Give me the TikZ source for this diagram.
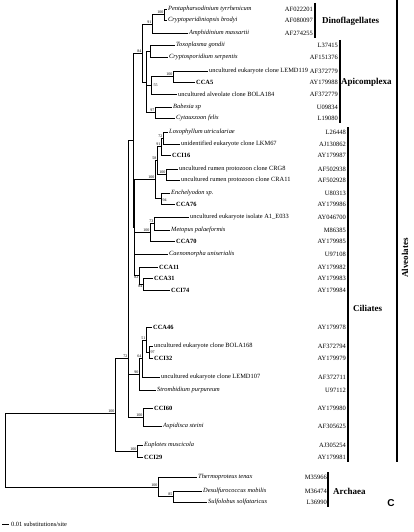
\documentclass[tikz,border=0pt]{standalone}
\usepackage{fontspec}
\setmainfont{Liberation Serif}
\newfontfamily\labelsans{Liberation Sans}
\usetikzlibrary{positioning}
% one taxon: name, end of branch x, y, label, accession, right edge of accession
\newcommand{\taxon}[6]{%
  \node[taxon] (#1) at (#2,#3) {#4};
  \node[acc] (#1-acc) at (#6,#3) {#5};}

\begin{document}
\begin{tikzpicture}[x=1pt,y=-1pt,
  taxon/.style={anchor=west,inner sep=1pt,font=\fontsize{6.4}{7}\selectfont},
  acc/.style={anchor=east,inner sep=0pt,font=\fontsize{6.5}{7}\selectfont},
  boot/.style={inner sep=0.4pt,font=\fontsize{4}{4}\selectfont},
  branch/.style={line width=0.7pt},
  cladebar/.style={line width=1.5pt},
  cladename/.style={anchor=west,inner sep=0pt,font=\fontsize{9}{10}\selectfont\bfseries}]
\useasboundingbox (0,0) rectangle (414,532);
%% leaves
\taxon{t1}{167}{9}{\itshape Pentapharsodinium tyrrhenicum}{AF022201}{313}
\taxon{t2}{167}{20}{\itshape Cryptoperidiniopsis brodyi}{AF080097}{313}
\taxon{t3}{188}{33}{\itshape Amphidinium massartii}{AF274255}{313}
\taxon{t4}{175}{45}{\itshape Toxoplasma gondii}{L37415}{338}
\taxon{t5}{168}{57}{\itshape Cryptosporidium serpentis}{AF151376}{338}
\taxon{t6}{208}{71}{uncultured eukaryote clone LEMD119}{AF372779}{338}
\taxon{t7}{195}{82}{\bfseries CCA5}{AY179988}{338}
\taxon{t8}{177}{94}{uncultured alveolate clone BOLA184}{AF372779}{338}
\taxon{t9}{172}{107}{\itshape Babesia sp}{U09834}{338}
\taxon{t10}{175}{118}{\itshape Cytauxzoon felis}{L19080}{338}
\taxon{t11}{168}{132}{\itshape Loxophyllum utriculariae}{L26448}{346}
\taxon{t12}{180}{144}{unidentified eukaryote clone LKM67}{AJ130862}{346}
\taxon{t13}{171}{155}{\bfseries CCI16}{AY179987}{346}
\taxon{t14}{178}{169}{uncultured rumen protozoon clone CRG8}{AF502938}{346}
\taxon{t15}{180}{180}{uncultured rumen protozoon clone CRA11}{AF502928}{346}
\taxon{t16}{170}{193}{\itshape Enchelyodon sp.}{U80313}{346}
\taxon{t17}{175}{204}{\bfseries CCA76}{AY179986}{346}
\taxon{t18}{189}{217}{uncultured eukaryote isolate A1\_E033}{AY046700}{346}
\taxon{t19}{170}{230}{\itshape Metopus palaeformis}{M86385}{346}
\taxon{t20}{175}{241}{\bfseries CCA70}{AY179985}{346}
\taxon{t21}{168}{254}{\itshape Caenomorpha uniserialis}{U97108}{346}
\taxon{t22}{158}{267}{\bfseries CCA11}{AY179982}{346}
\taxon{t23}{153}{278}{\bfseries CCA31}{AY179983}{346}
\taxon{t24}{170}{290}{\bfseries CCI74}{AY179984}{346}
\taxon{t25}{152}{327}{\bfseries CCA46}{AY179978}{346}
\taxon{t26}{153}{346}{uncultured eukaryote clone BOLA168}{AF372794}{346}
\taxon{t27}{153}{358}{\bfseries CCI32}{AY179979}{346}
\taxon{t28}{160}{377}{uncultured eukaryote clone LEMD107}{AF372711}{346}
\taxon{t29}{156}{390}{\itshape Strombidium purpureum}{U97112}{346}
\taxon{t30}{153}{408}{\bfseries CCI60}{AY179980}{346}
\taxon{t31}{162}{426}{\itshape Aspidisca steini}{AF305625}{346}
\taxon{t32}{143}{445}{\itshape Euplotes muscicola}{AJ305254}{346}
\taxon{t33}{143}{457}{\bfseries CCI29}{AY179981}{346}
\taxon{t34}{197}{477}{\itshape Thermoproteus tenax}{M35966}{327}
\taxon{t35}{202}{491}{\itshape Desulfurococcus mobilis}{M36474}{327}
\taxon{t36}{207}{502}{\itshape Sulfolobus solfataricus}{L36990}{327}
%% inner nodes
\coordinate (nDino) at (164,14.5);
\coordinate (n91) at (152,24);
\coordinate (nTC) at (150,51);
\coordinate (nLEMD) at (173,76.5);
\coordinate (n55) at (151,85);
\coordinate (n97) at (155,112.5);
\coordinate (nApi) at (146,82);
\coordinate (n84) at (142,53);
\coordinate (n72c) at (163,138);
\coordinate (n91c) at (161,146.5);
\coordinate (nRumen) at (166,174.5);
\coordinate (n58) at (157,160.5);
\coordinate (n94) at (161,198.5);
\coordinate (nHapt) at (155,179.5);
\coordinate (n73) at (154,223.5);
\coordinate (nMeto) at (150,232);
\coordinate (n84c) at (143,284);
\coordinate (n82) at (139,275.5);
\coordinate (nCil) at (134,227.5);
\coordinate (nAlv) at (133,140);
\coordinate (nBola) at (149,352);
\coordinate (n51) at (146,340);
\coordinate (n64) at (142,358);
\coordinate (n90) at (139,374);
\coordinate (nAsp) at (143,417);
\coordinate (n72) at (128,358);
\coordinate (nEup) at (137,451);
\coordinate (nEuk) at (115,413);
\coordinate (n85) at (173,496.5);
\coordinate (nArch) at (158,487);
\coordinate (nRoot) at (5,450);
%% branches
\draw[branch] (nDino) |- (t1.west) (nDino) |- (t2.west);
\draw[branch] (n91) |- (nDino) (n91) |- (t3.west);
\draw[branch] (nTC) |- (t4.west) (nTC) |- (t5.west);
\draw[branch] (nLEMD) |- (t6.west) (nLEMD) |- (t7.west);
\draw[branch] (n55) |- (nLEMD) (n55) |- (t8.west);
\draw[branch] (n97) |- (t9.west) (n97) |- (t10.west);
\draw[branch] (nApi) |- (nTC) (nApi) |- (n55) (nApi) |- (n97);
\draw[branch] (n84) |- (n91) (n84) |- (nApi);
\draw[branch] (n72c) |- (t11.west) (n72c) |- (t12.west);
\draw[branch] (n91c) |- (n72c) (n91c) |- (t13.west);
\draw[branch] (nRumen) |- (t14.west) (nRumen) |- (t15.west);
\draw[branch] (n58) |- (n91c) (n58) |- (nRumen);
\draw[branch] (n94) |- (t16.west) (n94) |- (t17.west);
\draw[branch] (nHapt) |- (n58) (nHapt) |- (n94);
\draw[branch] (n73) |- (t18.west) (n73) |- (t19.west);
\draw[branch] (nMeto) |- (n73) (nMeto) |- (t20.west);
\draw[branch] (n84c) |- (t23.west) (n84c) |- (t24.west);
\draw[branch] (n82) |- (t22.west) (n82) |- (n84c);
\draw[branch] (nCil) |- (nHapt) (nCil) |- (nMeto) (nCil) |- (t21.west) (nCil) |- (n82);
\draw[branch] (nAlv) |- (n84) (nAlv) |- (nCil);
\draw[branch] (nBola) |- (t26.west) (nBola) |- (t27.west);
\draw[branch] (n51) |- (t25.west) (n51) |- (nBola);
\draw[branch] (n64) |- (n51) (n64) |- (t28.west);
\draw[branch] (n90) |- (n64) (n90) |- (t29.west);
\draw[branch] (nAsp) |- (t30.west) (nAsp) |- (t31.west);
\draw[branch] (n72) |- (nAlv) (n72) |- (n90) (n72) |- (nAsp);
\draw[branch] (nEup) |- (t32.west) (nEup) |- (t33.west);
\draw[branch] (nEuk) |- (n72) (nEuk) |- (nEup);
\draw[branch] (n85) |- (t35.west) (n85) |- (t36.west);
\draw[branch] (nArch) |- (t34.west) (nArch) |- (n85);
\draw[branch] (nRoot) |- (nEuk) (nRoot) |- (nArch);
%% bootstrap values
\node[boot,anchor=south east] (b1) at (nDino) {100};
\node[boot,anchor=south east] (b2) at (n91) {91};
\node[boot,anchor=south east] (b3) at (n84) {84};
\node[boot,anchor=south east] (b4) at (nLEMD) {100};
\node[boot,anchor=west] (b5) at ([xshift=2pt]n55) {55};
\node[boot,anchor=south east] (b6) at (n97) {97};
\node[boot,anchor=south east] (b7) at (n72c) {72};
\node[boot,anchor=south east] (b8) at (n91c) {91};
\node[boot,anchor=south east] (b9) at (n58) {58};
\node[boot,anchor=south east] (b10) at (nRumen) {100};
\node[boot,anchor=south east] (b11) at (nHapt) {100};
\node[boot,anchor=west] (b12) at ([xshift=1pt,yshift=-2pt]n94) {94};
\node[boot,anchor=south east] (b13) at (n73) {73};
\node[boot,anchor=south east] (b14) at (nMeto) {100};
\node[boot,anchor=north east] (b15) at (n82) {82};
\node[boot,anchor=north east] (b16) at (n84c) {84};
\node[boot,anchor=south east] (b17) at (n51) {51};
\node[boot,anchor=west] (b18) at ([xshift=1pt]nBola) {97};
\node[boot,anchor=south east] (b19) at (n64) {64};
\node[boot,anchor=south east] (b20) at (n90) {90};
\node[boot,anchor=south east] (b21) at (nAsp) {100};
\node[boot,anchor=south east] (b22) at (n72) {72};
\node[boot,anchor=south east] (b23) at (nEup) {100};
\node[boot,anchor=south east] (b24) at (nEuk) {100};
\node[boot,anchor=south east] (b25) at (nArch) {100};
\node[boot,anchor=south east] (b26) at (n85) {85};
%% clades
\draw[cladebar] (315,3) coordinate (dTop) -- (315,38) coordinate (dBot);
\node[cladename] (dName) at (322,21) {Dinoflagellates};
\draw[cladebar] (340,40) coordinate (aTop) -- (340,123) coordinate (aBot);
\node[cladename] (aName) at (341,82) {Apicomplexa};
\draw[cladebar] (348,127) coordinate (cTop) -- (348,462) coordinate (cBot);
\node[cladename] (cName) at (353,308) {Ciliates};
\draw[cladebar] (328,472) coordinate (rTop) -- (328,507) coordinate (rBot);
\node[cladename] (rName) at (333,491) {Archaea};
\draw[cladebar] (397,0) coordinate (vTop) -- (397,462) coordinate (vBot);
\node[cladename,anchor=center,rotate=90] (vName) at (405,258) {Alveolates};
\node[font=\labelsans\bfseries\fontsize{10}{11}\selectfont] (panel) at (391,503) {C};
%% scale bar
\draw[branch] (2,524) coordinate (sL) -- (9,524) coordinate (sR);
\node[taxon] (sName) at (10,524) {0.01 substitutions/site};
\end{tikzpicture}
\end{document}
